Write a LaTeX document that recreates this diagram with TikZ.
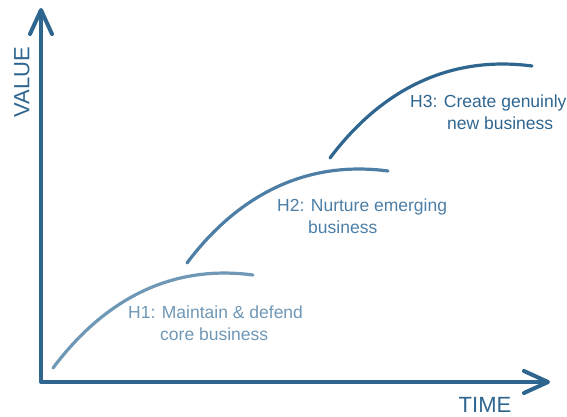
\documentclass[tikz,border=0pt]{standalone}
\usepackage{fontspec}
\setmainfont{Liberation Sans}
\usetikzlibrary{arrows.meta}
\definecolor{axisblue}{HTML}{2E6690}
\definecolor{hone}{HTML}{6F97B6}
\definecolor{htwo}{HTML}{4D7EA5}
\definecolor{hthree}{HTML}{2F6690}
\tikzset{
  axis/.style={color=axisblue, line width=4pt, line cap=round, line join=round,
    {Straight Barb[length=24pt,width=22pt,round]}-{Straight Barb[length=24pt,width=22pt,round]}},
  horizon/.style={line width=3.2pt, line cap=round},
  axislabel/.style={color=axisblue, font=\fontsize{22}{26}\selectfont, inner sep=0pt},
  hlabel/.style={anchor=north west, align=left, inner sep=0pt, font=\fontsize{17.5}{22}\selectfont}
}
\begin{document}
\begin{tikzpicture}[x=1pt,y=-1pt]
\useasboundingbox (0,0) rectangle (567,417);
\coordinate (origin) at (41,382);
\coordinate (ytip) at (41,8);
\coordinate (xtip) at (550,382);
\draw [axis] (ytip) -- (origin) -- (xtip);
\node [axislabel, rotate=90] (value) at (22,82) {VALUE};
\node [axislabel] (time) at (485,405) {TIME};
% H1
\coordinate (h1a) at (53,368);
\coordinate (h1b) at (253,275);
\draw [horizon, color=hone] (h1a) .. controls (98,308) and (163,263) .. (h1b);
\node [hlabel, color=hone] (h1) at (128,306) {H1: Maintain \& defend\\\hspace*{32pt}core business};
% H2
\coordinate (h2a) at (187,263);
\coordinate (h2b) at (388,171);
\draw [horizon, color=htwo] (h2a) .. controls (232,203) and (298,159) .. (h2b);
\node [hlabel, color=htwo] (h2) at (277,199) {H2: Nurture emerging\\\hspace*{31pt}business};
% H3
\coordinate (h3a) at (330,158);
\coordinate (h3b) at (532,66);
\draw [horizon, color=hthree] (h3a) .. controls (375,98) and (441,54) .. (h3b);
\node [hlabel, color=hthree] (h3) at (410,95) {H3: Create genuinly\\\hspace*{37pt}new business};
\end{tikzpicture}
\end{document}
